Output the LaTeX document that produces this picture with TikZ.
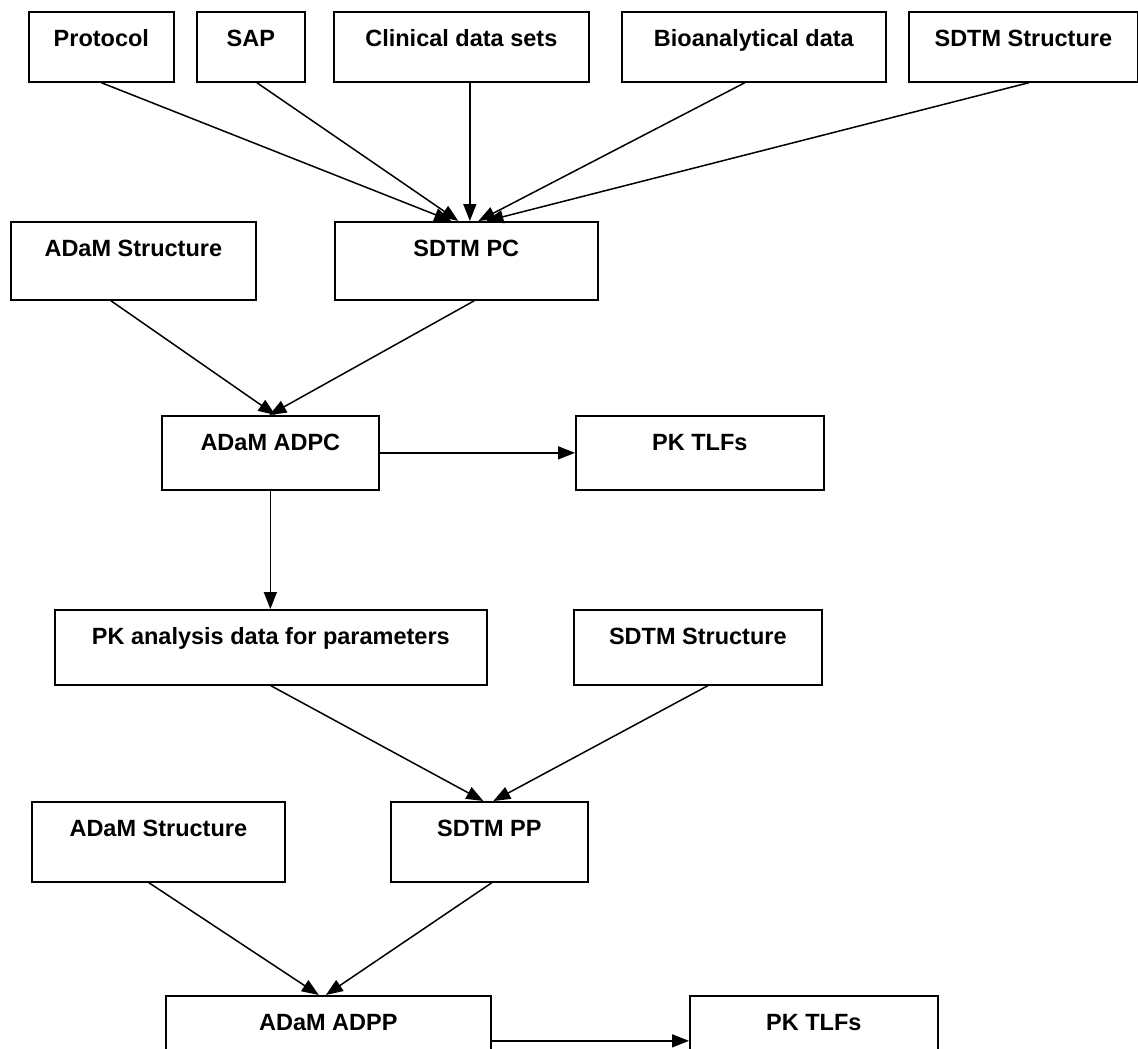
\documentclass[tikz,border=0pt]{standalone}
\usepackage{fontspec}
\setmainfont{Liberation Sans}
\usetikzlibrary{arrows.meta}
\tikzstyle{block} = [rectangle, draw, line width=1.7pt, anchor=north west,
    inner xsep=0pt, inner ysep=0pt, text height=35pt,
    font=\fontsize{23.5}{28}\selectfont\bfseries]
\tikzstyle{line} = [draw, line width=1.5pt, -{Triangle[length=17pt,width=13pt]}]

\begin{document}
\begin{tikzpicture}[x=1pt, y=-1pt]
    \useasboundingbox (0,0) rectangle (1138,1049);
    % Place nodes
    \node [block, minimum width=145pt, text depth=35pt] (protocol) at (28,11) {Protocol};
    \node [block, minimum width=108pt, text depth=35pt] (sap) at (196,11) {SAP};
    \node [block, minimum width=255pt, text depth=35pt] (clinical) at (333,11) {Clinical data sets};
    \node [block, minimum width=264pt, text depth=35pt] (bioanalytical) at (621,11) {Bioanalytical data};
    \node [block, minimum width=229pt, text depth=35pt] (sdtmstruct) at (908,11) {SDTM Structure};
    \node [block, minimum width=245pt, text depth=43pt] (adamstruct) at (10,221) {ADaM Structure};
    \node [block, minimum width=263pt, text depth=43pt] (sdtmpc) at (334,221) {SDTM PC};
    \node [block, minimum width=217pt, text depth=39pt] (adpc) at (161,415) {ADaM ADPC};
    \node [block, minimum width=248pt, text depth=39pt] (pktlf) at (575,415) {PK TLFs};
    \node [block, minimum width=432pt, text depth=40pt] (pkdata) at (54,609) {PK analysis data for parameters};
    \node [block, minimum width=248pt, text depth=40pt] (sdtmstructb) at (573,609) {SDTM Structure};
    \node [block, minimum width=253pt, text depth=45pt] (adamstructb) at (31,801) {ADaM Structure};
    \node [block, minimum width=197pt, text depth=45pt] (sdtmpp) at (390,801) {SDTM PP};
    \node [block, minimum width=325pt, text depth=55pt] (adpp) at (165,995) {ADaM ADPP};
    \node [block, minimum width=248pt, text depth=55pt] (pktlfb) at (689,995) {PK TLFs};
    % Draw edges
    \path [line] (protocol.south) -- ([xshift=-15pt]sdtmpc.north);
    \path [line] ([xshift=6pt]sap.south) -- ([xshift=-8pt]sdtmpc.north);
    \path [line] ([xshift=8.5pt]clinical.south) -- ([xshift=3.5pt]sdtmpc.north);
    \path [line] ([xshift=-9pt]bioanalytical.south) -- ([xshift=12pt]sdtmpc.north);
    \path [line] ([xshift=5.5pt]sdtmstruct.south) -- ([xshift=20pt]sdtmpc.north);
    \path [line] ([xshift=-22.5pt]adamstruct.south) -- ([xshift=5pt]adpc.north);
    \path [line] ([xshift=8pt]sdtmpc.south) -- ([xshift=-1pt]adpc.north);
    \path [line] (adpc.east) -- (pktlf.west);
    \path [line] (adpc.south) -- (adpc.south |- pkdata.north);
    \path [line] (pkdata.south) -- ([xshift=-6pt]sdtmpp.north);
    \path [line] ([xshift=10pt]sdtmstructb.south) -- ([xshift=4pt]sdtmpp.north);
    \path [line] ([xshift=-9.5pt]adamstructb.south) -- ([xshift=-9.5pt]adpp.north);
    \path [line] ([xshift=2.5pt]sdtmpp.south) -- ([xshift=-2.5pt]adpp.north);
    \path [line] (adpp.east) -- (pktlfb.west);
\end{tikzpicture}
\end{document}
